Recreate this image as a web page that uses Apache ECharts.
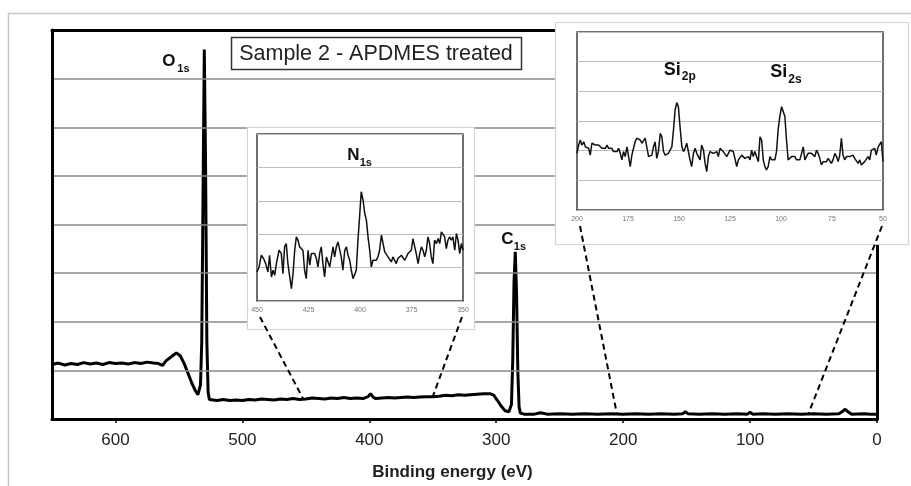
<!DOCTYPE html>
<html>
<head>
<meta charset="utf-8">
<script src="https://cdn.jsdelivr.net/npm/echarts@6/dist/echarts.min.js"></script>
<style>html,body{margin:0;padding:0;background:#fff}#c{width:911px;height:486px}</style>
</head>
<body>
<div id="c"></div>
<script>
// ---- main survey spectrum (binding energy eV, intensity in grid units) ----
const surveyEnergy = [650,645,640,635,630,625,620,615,610,605,600,595,590,585,580,575,570,566,563,560,556,552,549,546,543,540,537,535,533,532,531,530,529,528,527,526,520,515,510,505,500,495,490,485,480,475,470,465,460,455,450,445,440,435,430,425,420,415,410,405,401,399,397,395,390,385,380,375,370,365,360,355,350,345,340,335,330,325,320,315,310,305,302,299,296,293,290,288,287,286,285,284,283,282,281,278,270,265,260,250,240,230,220,210,200,190,180,170,160,153,151,149,140,130,120,110,102,100,98,90,80,70,60,50,40,30,27,25,23,20,10,5,0];
const surveySignal = [1.12,1.15,1.11,1.14,1.12,1.16,1.13,1.15,1.12,1.16,1.14,1.15,1.13,1.16,1.14,1.17,1.15,1.14,1.10,1.20,1.28,1.36,1.30,1.15,0.95,0.75,0.58,0.50,0.70,1.6,4.6,7.6,5.2,1.6,0.55,0.40,0.38,0.40,0.38,0.39,0.38,0.40,0.39,0.41,0.40,0.39,0.41,0.40,0.42,0.40,0.41,0.43,0.42,0.41,0.43,0.42,0.44,0.42,0.43,0.42,0.46,0.52,0.45,0.42,0.43,0.44,0.43,0.44,0.45,0.44,0.45,0.46,0.46,0.47,0.49,0.48,0.50,0.49,0.50,0.51,0.52,0.52,0.49,0.38,0.26,0.17,0.15,0.30,1.2,2.8,3.44,2.6,1.0,0.25,0.12,0.10,0.10,0.13,0.10,0.11,0.10,0.11,0.10,0.11,0.10,0.11,0.10,0.11,0.10,0.11,0.15,0.11,0.10,0.11,0.10,0.11,0.10,0.14,0.10,0.11,0.10,0.11,0.10,0.11,0.10,0.11,0.16,0.20,0.15,0.10,0.11,0.10,0.10];
const surveyTicks = [600,500,400,300,200,100,0];

// ---- N1s inset ----
const nEnergy = [450.0,449.0,447.9,446.8,445.8,444.7,443.9,443.0,442.2,441.4,
  440.6,439.3,438.2,437.4,436.6,435.8,435.0,434.1,433.3,432.5,
  431.7,430.9,430.1,429.3,428.5,427.7,426.9,426.1,425.2,424.4,
  423.6,422.8,422.0,421.2,420.4,419.6,418.8,418.0,417.2,416.3,
  415.5,414.7,413.1,412.3,411.5,410.7,409.9,409.1,408.3,407.4,
  406.6,405.8,405.0,404.2,403.4,402.6,401.8,401.0,400.2,399.4,
  398.5,397.7,396.9,396.1,395.3,394.5,393.7,392.9,392.1,391.3,
  390.5,389.6,388.8,388.0,387.2,386.4,385.6,384.8,384.0,383.2,
  382.4,381.6,380.7,379.9,379.1,378.3,377.5,376.7,375.9,375.1,
  374.3,373.5,372.7,371.8,371.0,370.2,369.4,368.6,367.8,367.0,
  366.2,365.4,364.6,363.8,362.9,362.1,361.3,360.5,359.7,358.9,
  358.1,357.3,356.5,355.7,354.9,354.0,353.2,352.4,351.6,350.8,350.0];
const nSignal = [0.87,1.02,1.37,1.27,1.12,0.87,1.37,0.72,0.92,0.77,
  1.12,1.52,1.42,0.82,1.62,1.72,1.12,0.72,0.37,0.82,
  1.52,1.92,1.82,1.62,1.57,1.52,0.92,0.67,1.52,1.07,
  1.42,1.47,1.42,1.27,1.02,1.42,1.62,1.12,0.72,1.32,
  1.27,1.02,1.62,1.32,1.62,1.77,1.72,1.32,0.92,1.52,
  1.62,1.37,1.22,0.92,0.67,0.62,0.92,1.82,2.52,3.27,
  3.02,2.62,2.42,1.92,1.52,1.02,1.22,1.27,1.22,1.32,
  1.52,1.97,2.02,1.47,1.42,1.32,1.27,1.17,1.32,1.22,
  1.12,1.27,1.32,1.37,1.32,1.22,1.17,1.42,1.42,1.52,
  1.87,1.92,1.42,1.12,1.42,1.62,1.52,1.32,1.52,1.92,
  1.72,1.32,1.12,1.82,1.72,1.87,1.72,2.07,2.12,1.92,
  1.57,1.82,1.92,1.82,1.92,1.52,2.02,1.82,1.42,1.72,1.52];

// ---- Si2p / Si2s inset ----
const siEnergy = [200.0,199.2,198.4,197.6,196.7,195.9,195.1,194.3,193.5,192.7,
  191.8,191.0,190.2,189.4,188.6,187.8,187.0,186.1,185.3,184.5,
  183.7,182.9,182.1,181.3,180.4,179.6,178.8,178.0,177.2,176.4,
  175.5,174.7,173.9,173.1,172.3,171.5,170.7,169.8,169.0,168.2,
  167.4,166.6,165.8,164.9,164.1,163.3,162.5,161.7,160.9,160.1,
  159.2,158.4,157.6,156.8,156.0,155.2,154.3,153.5,152.7,151.9,
  151.1,150.3,149.5,148.6,147.8,147.0,146.2,145.4,144.6,143.8,
  142.9,142.1,141.3,140.5,139.7,138.9,138.0,137.2,136.4,135.6,
  134.8,134.0,133.2,132.3,131.5,130.7,129.9,129.1,128.3,127.4,
  126.6,125.8,125.0,124.2,123.4,122.6,121.7,120.9,120.1,119.3,
  118.5,117.7,116.9,116.0,115.2,114.4,113.6,112.8,112.0,111.1,
  110.3,109.5,108.7,107.9,107.1,106.3,105.4,104.6,103.8,103.0,
  102.2,101.4,100.6,99.7,98.9,98.1,97.3,96.5,95.7,94.8,
  94.0,93.2,92.4,91.6,90.8,89.9,89.1,88.3,87.5,86.7,
  85.9,85.1,84.2,83.4,82.6,81.8,81.0,80.2,79.3,78.5,
  77.7,76.9,76.1,75.3,74.5,73.6,72.8,72.0,71.2,70.4,
  69.6,68.8,67.9,67.1,66.3,65.5,64.7,63.9,63.0,62.2,
  61.4,60.6,59.8,59.0,58.2,57.3,56.5,55.7,54.9,54.1,
  53.3,52.4,51.6,50.8,50.0];
const siSignal = [1.91,2.19,2.36,2.19,2.30,2.13,2.19,2.08,1.85,2.25,
  2.30,2.19,2.25,2.19,2.22,2.08,2.13,2.08,2.19,2.08,
  2.02,2.08,1.97,2.02,1.97,2.08,1.91,1.69,1.97,1.80,
  2.13,2.19,1.46,1.85,2.08,2.30,2.42,2.42,2.36,2.25,
  2.30,2.42,2.13,1.80,1.85,1.85,2.13,2.30,1.74,1.97,
  2.58,2.47,1.97,1.85,1.85,1.91,1.97,2.13,2.70,3.37,
  3.62,3.48,2.81,2.13,1.97,2.08,2.25,2.19,1.69,1.46,
  1.91,2.08,1.91,1.80,1.69,2.19,2.02,1.57,1.29,1.80,
  1.97,2.02,1.91,1.91,1.97,1.80,2.08,2.13,1.97,1.91,
  1.80,1.91,2.02,2.08,1.97,1.74,1.46,1.69,1.69,1.85,
  1.80,1.74,1.80,1.80,1.69,2.02,1.80,1.97,1.80,1.63,
  2.47,2.36,1.69,1.46,1.35,1.46,1.80,1.69,1.74,1.69,
  1.97,2.70,3.15,3.48,3.54,3.15,2.36,1.69,1.63,1.80,
  1.85,1.80,1.69,1.74,1.69,1.91,2.13,1.69,1.80,1.91,
  1.85,1.91,1.97,1.80,2.02,1.91,1.74,1.52,1.63,1.69,
  1.63,1.74,1.69,1.57,1.69,1.91,1.80,1.63,1.85,2.42,
  1.85,1.69,1.80,1.74,1.80,1.74,1.85,1.74,1.80,1.57,
  1.69,1.52,1.46,1.63,1.69,1.80,1.69,2.02,1.97,2.08,
  1.85,2.13,2.19,2.30,1.63];

// zoom connectors: [inset axis end energy, survey energy where the dash lands]
const nLinks = [[450, 452], [350, 350]];
const siLinks = [[200, 205], [50, 54]];

const titleText = 'Sample 2 - APDMES treated';
const axisTitle = 'Binding energy (eV)';

const zip = (a, b) => a.map((v, i) => [v, b[i]]);
const chart = echarts.init(document.getElementById('c'), null, {renderer: 'canvas'});
const FONT = 'Liberation Sans, Arial, sans-serif';

const insetX = (min, max, gi) => ({
  type: 'value', gridIndex: gi, min: min, max: max, interval: 25, inverse: true, z: 8,
  axisLine: {show: false}, axisTick: {show: false},
  axisLabel: {fontSize: 7, color: '#777', margin: 6, fontFamily: FONT},
  splitLine: {show: false}
});
const insetY = (max, gi) => ({
  type: 'value', gridIndex: gi, min: 0, max: max, interval: 1, z: 8,
  axisLine: {show: false}, axisTick: {show: false}, axisLabel: {show: false},
  splitLine: {show: true, lineStyle: {color: '#bdbdbd', width: 1.2}}
});
const frameLine = {show: true, onZero: false, lineStyle: {color: '#000', width: 3}};

chart.setOption({
  animation: false,
  backgroundColor: '#fff',
  grid: [
    {left: 52, top: 30, width: 825, height: 398, show: false, z: 0},
    {left: 257, top: 134, width: 206, height: 167, show: true, backgroundColor: '#fff', borderColor: '#404040', borderWidth: 1.5, z: 7},
    {left: 577, top: 32, width: 306, height: 178, show: true, backgroundColor: '#fff', borderColor: '#404040', borderWidth: 1.5, z: 7}
  ],
  xAxis: [
    {type: 'value', gridIndex: 0, position: 'bottom', min: 0, max: 650, interval: 100, inverse: true, z: 3,
     axisLine: frameLine,
     axisTick: {show: true, length: 4, inside: false, lineStyle: {color: '#000', width: 1.5},
       customValues: surveyTicks},
     axisLabel: {fontSize: 17, color: '#222', margin: 13, fontFamily: FONT,
       customValues: surveyTicks},
     splitLine: {show: false},
     name: axisTitle, nameLocation: 'middle', nameGap: 45,
     nameTextStyle: {fontSize: 17, fontWeight: 'bold', color: '#222', fontFamily: FONT, padding: [0, 24, 0, 0]}},
    {type: 'value', gridIndex: 0, position: 'top', min: 0, max: 650, inverse: true, z: 3,
     axisLine: frameLine,
     axisTick: {show: false}, axisLabel: {show: false}, splitLine: {show: false}},
    insetX(350, 450, 1),
    insetX(50, 200, 2)
  ],
  yAxis: [
    {type: 'value', gridIndex: 0, position: 'left', min: 0, max: 8, interval: 1, z: 3,
     axisLine: frameLine, axisTick: {show: false}, axisLabel: {show: false},
     splitLine: {show: true, lineStyle: {color: '#8a8a8a', width: 1.5}}},
    {type: 'value', gridIndex: 0, position: 'right', min: 0, max: 8, z: 3,
     axisLine: frameLine, axisTick: {show: false}, axisLabel: {show: false},
     splitLine: {show: false}},
    insetY(5, 1),
    insetY(6, 2)
  ],
  series: [
    {type: 'line', xAxisIndex: 0, yAxisIndex: 0, data: zip(surveyEnergy, surveySignal), showSymbol: false,
     z: 2, lineStyle: {color: '#000', width: 3}},
    {type: 'line', xAxisIndex: 2, yAxisIndex: 2, data: zip(nEnergy, nSignal), showSymbol: false,
     z: 9, lineStyle: {color: '#111', width: 1.5}},
    {type: 'line', xAxisIndex: 3, yAxisIndex: 3, data: zip(siEnergy, siSignal), showSymbol: false,
     z: 9, lineStyle: {color: '#111', width: 1.5}}
  ]
});

function px(gi, pt) { return chart.convertToPixel({gridIndex: gi}, pt); }
function surveyAt(e) {
  let best = 0;
  for (let i = 0; i < surveyEnergy.length; i++) {
    if (Math.abs(surveyEnergy[i] - e) < Math.abs(surveyEnergy[best] - e)) best = i;
  }
  return surveySignal[best];
}

const gfx = [];
// outer figure frame
gfx.push({type: 'rect', z: 0, shape: {x: 8.5, y: 13.5, width: 1000, height: 1000},
  style: {fill: 'none', stroke: '#c8c8c8', lineWidth: 1.5}});

// inset outer boxes, derived from inset grids
function box(gi, padL, padT, padR, padB) {
  const a = px(gi, gi === 1 ? [450, 5] : [200, 6]);
  const b = px(gi, gi === 1 ? [350, 0] : [50, 0]);
  gfx.push({type: 'rect', z: 5, shape: {x: a[0] - padL + 0.5, y: a[1] - padT + 0.5,
    width: b[0] - a[0] + padL + padR, height: b[1] - a[1] + padT + padB},
    style: {fill: '#fff', stroke: '#d3d3d3', lineWidth: 1.2}});
}
box(1, 10, 7, 11, 28);
box(2, 22, 10, 25, 34);

function link(gi, insetE, surveyE) {
  const top = px(gi, [insetE, 0]);
  const bot = px(0, [surveyE, surveyAt(surveyE)]);
  gfx.push({type: 'line', z: 6, shape: {x1: top[0] + (insetE === (gi === 1 ? 450 : 200) ? 3 : -1), y1: top[1] + 16, x2: bot[0], y2: bot[1]},
    style: {stroke: '#000', lineWidth: 2, lineDash: [6, 4]}});
}
nLinks.forEach(l => link(1, l[0], l[1]));
siLinks.forEach(l => link(2, l[0], l[1]));

// title box
gfx.push({type: 'rect', z: 10, shape: {x: 231.5, y: 37.5, width: 290, height: 32},
  style: {fill: '#fff', stroke: '#333', lineWidth: 1.5}});
gfx.push({type: 'text', z: 11, x: 376, y: 54,
  style: {text: titleText, font: '21.5px ' + FONT, fill: '#222', textAlign: 'center', textVerticalAlign: 'middle'}});

// peak labels with subscripts
function peakLabel(main, sub, x, y, size, subSize) {
  gfx.push({type: 'text', z: 11, x: x, y: y,
    style: {text: main, font: 'bold ' + size + 'px ' + FONT, fill: '#111', textAlign: 'left', textVerticalAlign: 'middle'}});
  gfx.push({type: 'text', z: 11, x: x + (main === 'Si' ? 18 : main === 'O' ? 15 : 12.5), y: y + size * 0.42,
    style: {text: sub, font: 'bold ' + subSize + 'px ' + FONT, fill: '#111', textAlign: 'left', textVerticalAlign: 'middle'}});
}
const o = px(0, [530, 7.6]);
peakLabel('O', '1s', o[0] - 42, o[1] + 12, 17, 11);
const c = px(0, [285, 3.44]);
peakLabel('C', '1s', c[0] - 14, c[1] - 12, 17, 11);
const n = px(1, [399.4, 3.27]);
peakLabel('N', '1s', n[0] - 14, n[1] - 36, 17, 11);
const s1 = px(2, [151.1, 3.62]);
peakLabel('Si', '2p', s1[0] - 13, s1[1] - 33, 18, 12);
const s2 = px(2, [98.9, 3.54]);
peakLabel('Si', '2s', s2[0] - 13, s2[1] - 33, 18, 12);

chart.setOption({graphic: gfx});
</script>
</body>
</html>
